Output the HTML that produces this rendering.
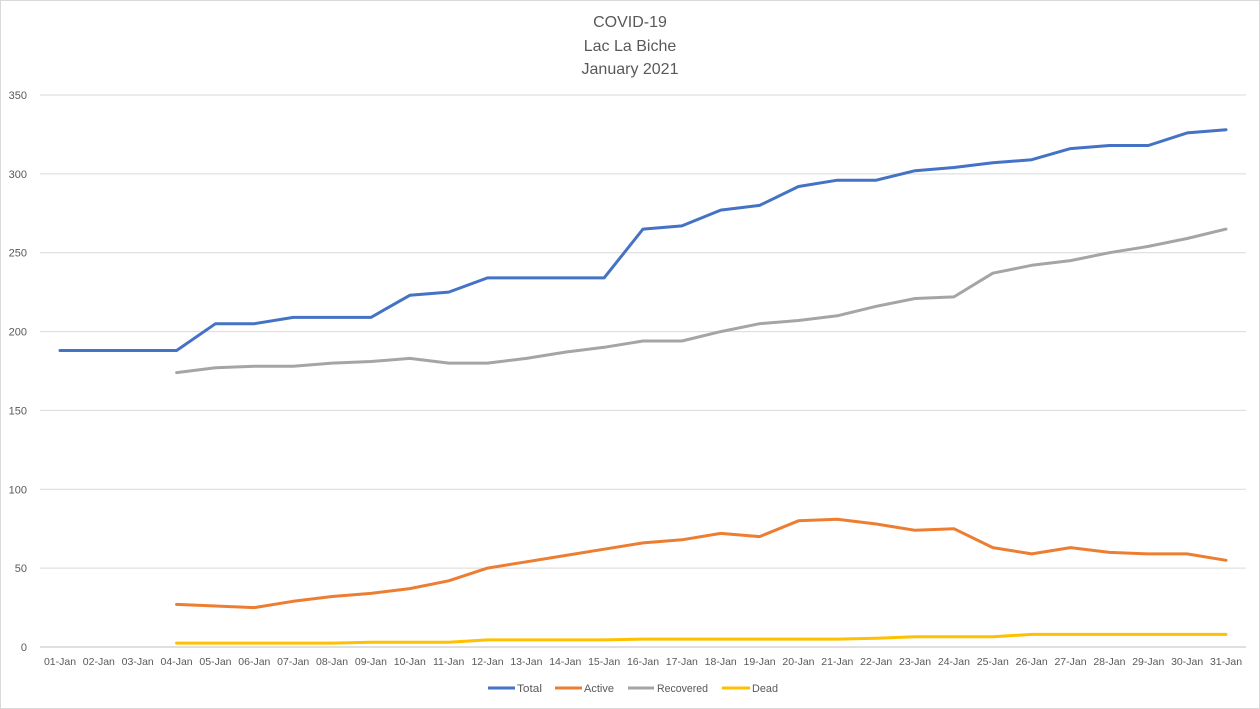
<!DOCTYPE html>
<html><head><meta charset="utf-8"><style>
body{margin:0;background:#fff}
svg{display:block;font-family:"Liberation Sans",sans-serif}
</style></head><body>
<svg id="c" width="1260" height="709" xmlns="http://www.w3.org/2000/svg">
<rect x="0.5" y="0.5" width="1259" height="708" fill="#fff" stroke="#d9d9d9"/>
<g fill="#595959" font-size="16" text-anchor="middle">
<text x="630" y="27">COVID-19</text>
<text x="630" y="51">Lac La Biche</text>
<text x="630" y="74">January 2021</text>
</g>
<g id="grid"></g>
<g id="series" fill="none" stroke-width="3" stroke-linejoin="round" stroke-linecap="round"></g>
<g font-size="11" fill="#595959">
<line x1="488" y1="688" x2="515" y2="688" stroke="#4472c4" stroke-width="3"/><text x="517" y="692" textLength="25" lengthAdjust="spacingAndGlyphs">Total</text>
<line x1="555" y1="688" x2="582" y2="688" stroke="#ed7d31" stroke-width="3"/><text x="584" y="692" textLength="30" lengthAdjust="spacingAndGlyphs">Active</text>
<line x1="628" y1="688" x2="654" y2="688" stroke="#a5a5a5" stroke-width="3"/><text x="657" y="692" textLength="51" lengthAdjust="spacingAndGlyphs">Recovered</text>
<line x1="722" y1="688" x2="750" y2="688" stroke="#ffc000" stroke-width="3"/><text x="752" y="692" textLength="26" lengthAdjust="spacingAndGlyphs">Dead</text>
</g>
</svg>
<script>
var NS="http://www.w3.org/2000/svg";
function el(t,a,p,txt){var e=document.createElementNS(NS,t);for(var k in a)e.setAttribute(k,a[k]);if(txt!==undefined)e.textContent=txt;p.appendChild(e);return e;}
var g=document.getElementById('grid'),s=document.getElementById('series');
function Y(v){return 647-v*552/350;}
function X(i){return 60+i*1166/30;}
for(var v=0;v<=350;v+=50){var y=Y(v);el('line',{x1:40,x2:1246,y1:y,y2:y,stroke:v==0?'#bfbfbf':'#d9d9d9','stroke-width':1},g);
el('text',{x:27,y:y+4,'text-anchor':'end','font-size':11,fill:'#595959'},g,String(v));}
for(var i=0;i<31;i++){var d=(i+1<10?'0':'')+(i+1)+'-Jan';el('text',{x:X(i),y:665,'text-anchor':'middle','font-size':10.5,fill:'#595959'},g,d);}
var total=[188,188,188,188,205,205,209,209,209,223,225,234,234,234,234,265,267,277,280,292,296,296,302,304,307,309,316,318,318,326,328];
var rec=[174,177,178,178,180,181,183,180,180,183,187,190,194,194,200,205,207,210,216,221,222,237,242,245,250,254,259,265];
var act=[27,26,25,29,32,34,37,42,50,54,58,62,66,68,72,70,80,81,78,74,75,63,59,63,60,59,59,55];
var dead=[2.5,2.5,2.5,2.5,2.5,3,3,3,4.5,4.5,4.5,4.5,5,5,5,5,5,5,5.5,6.5,6.5,6.5,8,8,8,8,8,8];
function line(d,off,c){var p=[];for(var i=0;i<d.length;i++)p.push(X(i+off).toFixed(1)+','+Y(d[i]).toFixed(1));el('polyline',{points:p.join(' '),stroke:c},s);}
line(total,0,'#4472c4');line(act,3,'#ed7d31');line(rec,3,'#a5a5a5');line(dead,3,'#ffc000');
</script>
</body></html>
